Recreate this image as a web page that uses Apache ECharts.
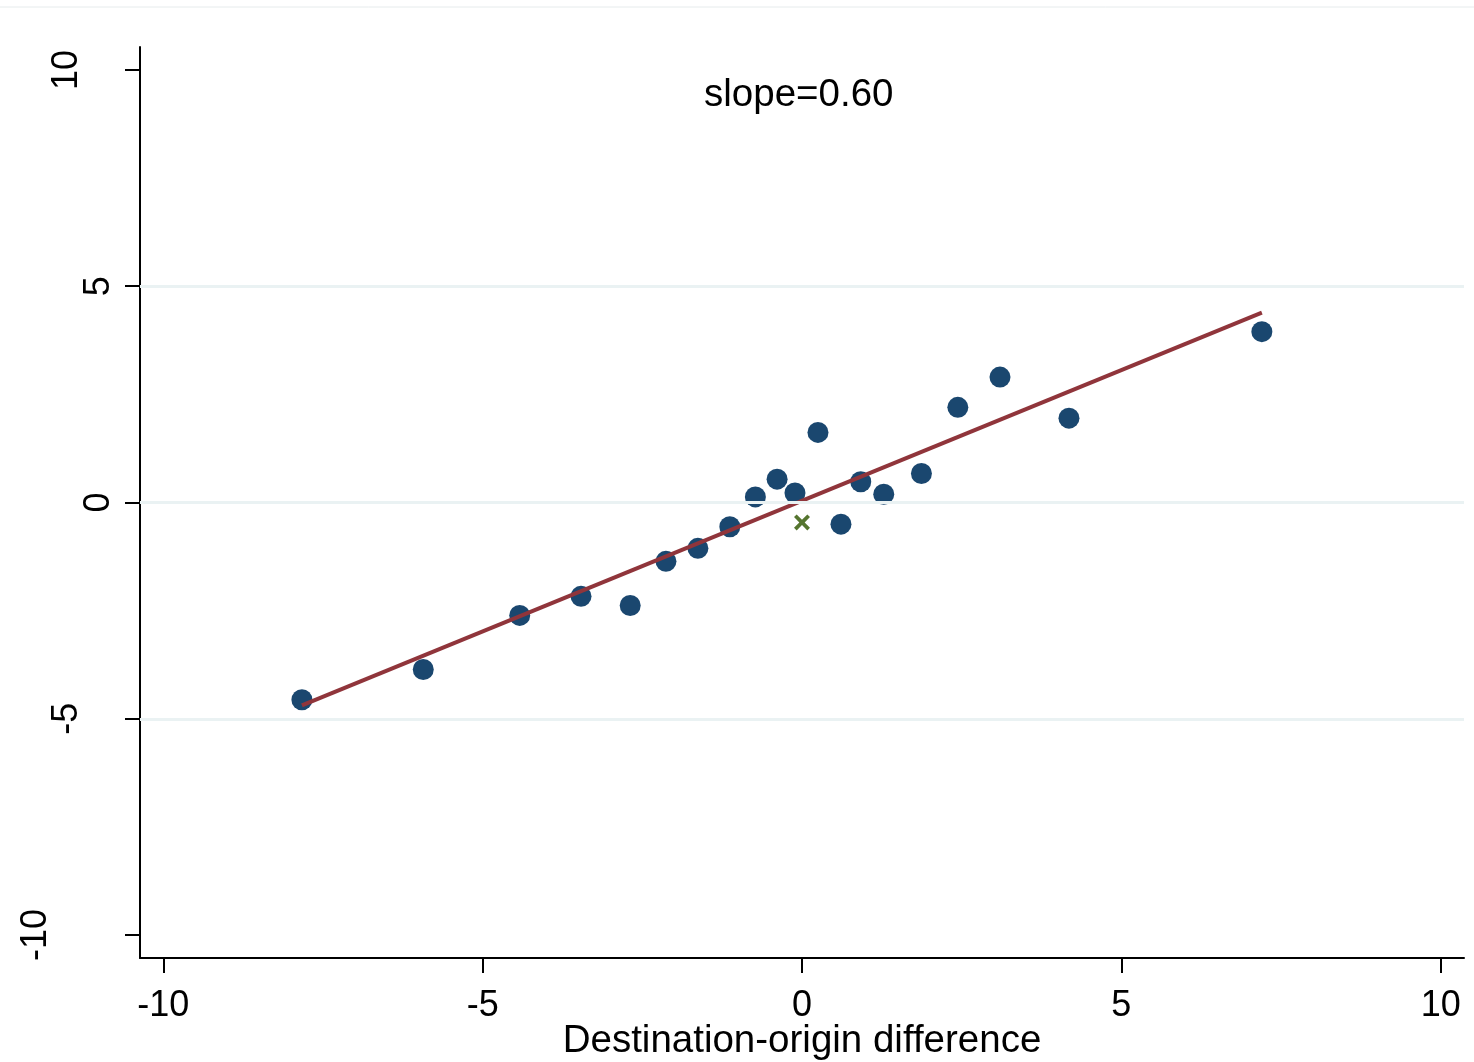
<!DOCTYPE html>
<html>
<head>
<meta charset="utf-8">
<script src="https://cdn.jsdelivr.net/npm/echarts@6/dist/echarts.min.js"></script>
<style>
html,body{margin:0;padding:0;background:#fff;}
#c{width:1474px;height:1062px;}
</style>
</head>
<body>
<div id="c"></div>
<script>
const pointsX = [-7.83, -5.93, -4.42, -3.46, -2.69, -2.13, -1.63, -1.13, -0.73, -0.39, -0.11, 0.25, 0.61, 0.92, 1.28, 1.87, 2.44, 3.10, 4.18, 7.20];
const pointsY = [-4.56, -3.86, -2.61, -2.17, -2.38, -1.36, -1.06, -0.56, 0.13, 0.54, 0.22, 1.62, -0.50, 0.48, 0.19, 0.67, 2.20, 2.90, 1.95, 3.95];
const crossX = [0];
const crossY = [-0.46];
const fitX = [-7.83, 7.20];
const fitY = [-4.69, 4.39];
const xTicks = [-10, -5, 0, 5, 10];
const yTicks = [-10, -5, 0, 5, 10];
const yGrid = [-5, 0, 5];
const slopeLabel = 'slope=0.60';
const xTitle = 'Destination-origin difference';

const FONT = 'Liberation Sans, Arial, sans-serif';
const chart = echarts.init(document.getElementById('c'), null, {renderer: 'canvas'});
chart.setOption({
  animation: false,
  backgroundColor: '#ffffff',
  grid: {left: 140, right: 10, top: 47, bottom: 104, containLabel: false, outerBoundsMode: 'none'},
  xAxis: {
    type: 'value', min: -10.365, max: 10.365,
    name: xTitle, nameLocation: 'middle', nameGap: 64, nameMoveOverlap: false,
    nameTextStyle: {fontFamily: FONT, fontSize: 38.5, color: '#000'},
    axisLine: {show: true, onZero: false, lineStyle: {color: '#000', width: 2}},
    axisTick: {show: true, customValues: xTicks, length: 15, lineStyle: {color: '#000', width: 2}},
    axisLabel: {customValues: xTicks, fontFamily: FONT, fontSize: 36, color: '#000', margin: 30},
    splitLine: {show: false}
  },
  yAxis: {
    type: 'value', min: -10.53, max: 10.53,
    axisLine: {show: true, onZero: false, lineStyle: {color: '#000', width: 2}},
    axisTick: {show: true, customValues: yTicks, length: 15, lineStyle: {color: '#000', width: 2}},
    axisLabel: {
      customValues: yTicks, rotate: 90, fontFamily: FONT, fontSize: 36, color: '#000', margin: 23,
      formatter: function (v) {
        const s = String(v);
        return '{p' + s.length + '|' + s + '}';
      },
      rich: {
        p1: {fontFamily: FONT, fontSize: 36, color: '#000', padding: [0, 0, 0, 0]},
        p2: {fontFamily: FONT, fontSize: 36, color: '#000', padding: [0, 0, 32, 0]},
        p3: {fontFamily: FONT, fontSize: 36, color: '#000', padding: [0, 0, 63, 0]}
      }
    },
    splitLine: {show: false}
  },
  graphic: [
    {type: 'line', shape: {x1: 0, y1: 7, x2: 1474, y2: 7}, style: {stroke: '#e6ebec', lineWidth: 1}, silent: true},
    {type: 'text', left: 704, top: 76, style: {text: slopeLabel, font: '38.5px ' + FONT, fill: '#000'}}
  ],
  series: [
    {
      type: 'line', data: [], silent: true,
      markLine: {
        symbol: 'none', silent: true, label: {show: false},
        lineStyle: {color: '#eaf2f3', width: 3, type: 'solid'},
        data: yGrid.map(v => ({yAxis: v}))
      }
    },
    {
      type: 'line', data: fitX.map((x, i) => [x, fitY[i]]), symbol: 'none',
      lineStyle: {color: '#90353b', width: 4}, z: 3
    },
    {
      type: 'scatter', data: pointsX.map((x, i) => [x, pointsY[i]]),
      symbol: 'circle', symbolSize: 21, itemStyle: {color: '#1a476f', opacity: 1}, z: 2
    },
    {
      type: 'scatter', data: crossX.map((x, i) => [x, crossY[i]]),
      symbol: 'path://M0,2 L2,0 L6,4 L10,0 L12,2 L8,6 L12,10 L10,12 L6,8 L2,12 L0,10 L4,6 Z', symbolSize: 16,
      itemStyle: {color: '#55752f', opacity: 1}, z: 4
    }
  ]
});
</script>
</body>
</html>
